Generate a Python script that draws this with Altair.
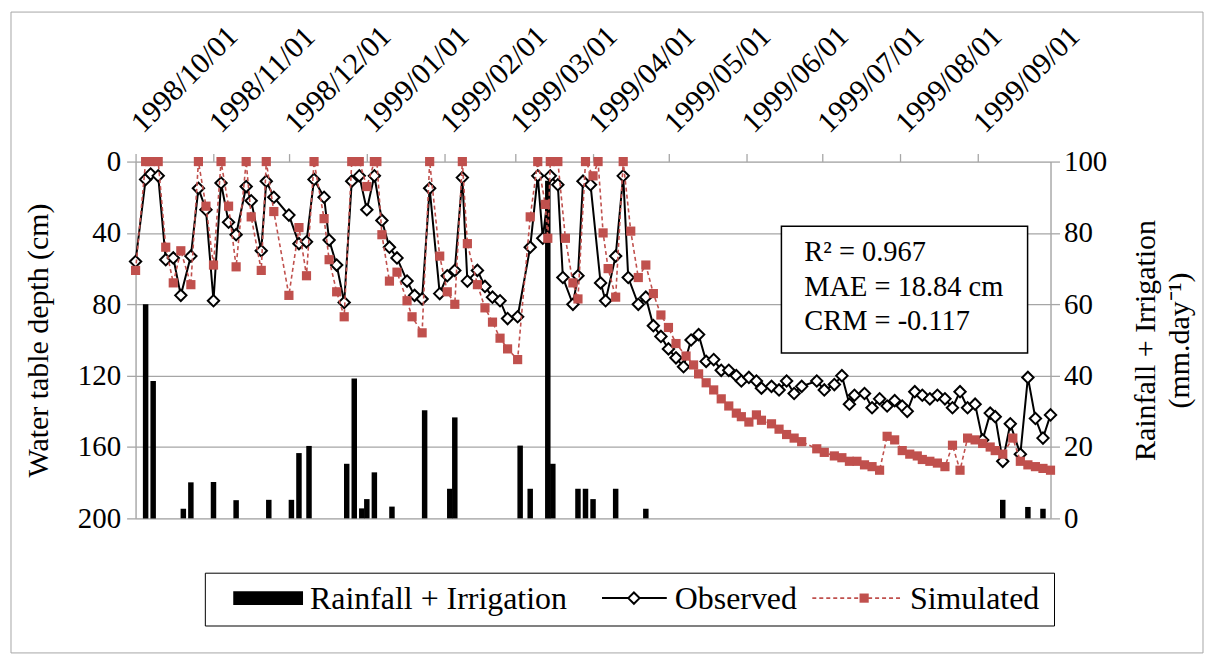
import altair as alt
import pandas as pd

# ---------------- data ----------------
START = pd.Timestamp("1998-10-01")

obs_day = [0, 4, 6, 9, 12, 15, 18, 22, 25, 28,
           31, 34, 37, 40, 44, 46, 50, 52, 55, 61,
           65, 68, 71, 75, 77, 80, 83, 86, 89, 92,
           95, 98, 101, 104, 108, 111, 114, 117, 121, 124,
           127, 130, 132, 136, 139, 142, 145, 148, 152, 157,
           160, 162, 165, 168, 170, 174, 176, 178, 181, 185,
           187, 191, 194, 196, 200, 203, 206, 209, 212, 215,
           218, 221, 224, 227, 230, 233, 236, 239, 241, 244,
           247, 249, 253, 256, 259, 262, 265, 271, 274, 278,
           281, 284, 286, 290, 293, 296, 299, 302, 305, 307,
           310, 313, 316, 319, 322, 325, 328, 331, 334, 337,
           340, 342, 345, 348, 352, 355, 358, 361, 364]
obs_depth = [56, 10, 7, 8, 55, 54, 75, 53, 15, 27,
             78, 12, 34, 41, 14, 22, 50, 11, 20, 30,
             46, 45, 10, 20, 44, 58, 79, 11, 8, 27,
             8, 33, 48, 54, 67, 75, 77, 15, 74, 64,
             61, 9, 67, 61, 70, 76, 78, 88, 87, 48,
             8, 43, 8, 13, 65, 80, 64, 11, 13, 68,
             78, 53, 8, 65, 80, 76, 92, 98, 105, 110,
             115, 100, 97, 112, 111, 117, 117, 120, 123, 121,
             123, 127, 126, 128, 123, 130, 126, 123, 128, 125,
             120, 136, 131, 130, 138, 133, 137, 134, 137, 140,
             129, 131, 133, 131, 133, 138, 129, 138, 136, 156,
             141, 143, 168, 147, 164, 121, 144, 155, 142]

sim_day = [0, 4, 6, 9, 12, 15, 18, 22, 25, 28,
           31, 34, 37, 40, 44, 46, 50, 52, 55, 61,
           65, 68, 71, 75, 77, 80, 83, 86, 89, 92,
           95, 96, 98, 101, 104, 108, 110, 114, 117, 121,
           124, 127, 130, 132, 136, 139, 142, 145, 148, 152,
           157, 160, 163, 164, 165, 168, 171, 174, 176, 179,
           182, 184, 186, 188, 191, 194, 197, 200, 203, 206,
           209, 212, 215, 219, 222, 224, 227, 230, 233, 236,
           239, 241, 244, 247, 249, 253, 256, 259, 262, 265,
           271, 274, 278, 281, 284, 287, 290, 293, 296, 299,
           302, 305, 308, 311, 313, 316, 319, 322, 325, 328,
           331, 334, 337, 340, 342, 345, 349, 352, 355, 358,
           361, 364]
sim_depth = [61, 0, 0, 0, 48, 68, 50, 69, 0, 25,
             58, 0, 25, 59, 0, 31, 61, 0, 28, 75,
             37, 64, 0, 32, 55, 73, 87, 0, 0, 14,
             0, 0, 41, 67, 62, 78, 87, 96, 0, 53,
             73, 80, 0, 46, 69, 82, 90, 99, 105, 111,
             31, 0, 24, 43, 0, 0, 43, 68, 77, 0,
             8, 0, 40, 60, 76, 0, 39, 65, 58, 74,
             86, 93, 102, 109, 114, 119, 124, 128, 133, 137,
             141, 143, 146, 142, 145, 147, 150, 153, 155, 157,
             161, 163, 165, 166, 168, 168, 170, 171, 173, 154,
             156, 162, 164, 165, 167, 168, 169, 171, 159, 173,
             155, 156, 158, 160, 162, 164, 155, 168, 170, 171,
             172, 173]

rain_day = [4, 7, 19, 22, 31, 40, 53, 62, 65, 69,
            84, 87, 90, 92, 95, 102, 115, 125, 127, 153,
            157, 164, 166, 176, 179, 182, 191, 203, 345, 355,
            361]
rain_mm = [60, 38.5, 2.7, 10.1, 10.2, 5.1, 5.2, 5.2, 18.3, 20.3,
           15.3, 39.2, 2.8, 5.4, 12.9, 3.3, 30.3, 8.3, 28.3, 20.4,
           8.3, 94.6, 15.3, 8.3, 8.3, 5.4, 8.3, 2.7, 5.2, 3.2,
           2.7]

month_ticks = [(1998, 10), (1998, 11), (1998, 12), (1999, 1), (1999, 2), (1999, 3),
               (1999, 4), (1999, 5), (1999, 6), (1999, 7), (1999, 8), (1999, 9)]
depth_ticks = [0, 40, 80, 120, 160, 200]
rain_ticks = [0, 20, 40, 60, 80, 100]

stats_lines = ["R\u00b2 = 0.967", "MAE = 18.84 cm", "CRM = -0.117"]
series_names = ["Rainfall + Irrigation", "Observed", "Simulated"]
left_title = "Water table depth (cm)"
right_title = ["Rainfall + Irrigation", "(mm.day\u207b\u00b9)"]


def to_dates(days):
    return [START + pd.Timedelta(days=int(d)) for d in days]


obs_df = pd.DataFrame({"date": to_dates(obs_day), "depth": obs_depth})
sim_df = pd.DataFrame({"date": to_dates(sim_day), "depth": sim_depth})
rain_df = pd.DataFrame({"date": to_dates(rain_day), "rain": rain_mm})
one = pd.DataFrame({"k": [0]})

# ---------------- styling ----------------
FONT = "Liberation Serif"
FS_TICK = 29
FS_DATE = 30
FS_TITLE = 30
FS_BOX = 28.5
FS_LEG = 32
GRAY = "#A6A6A6"
RED = "#C0504D"
W, H = 918, 358

x_scale = alt.Scale(domain=[alt.DateTime(year=1998, month=10, date=1),
                            alt.DateTime(year=1999, month=9, date=30)],
                    nice=False, padding=0)
x_axis = alt.Axis(orient="top",
                  values=[alt.DateTime(year=y, month=m, date=1) for y, m in month_ticks],
                  format="%Y/%m/%d", labelAngle=-45, labelAlign="left",
                  labelBaseline="alphabetic", labelPadding=20, labelOffset=7,
                  tickSize=8, tickColor=GRAY, tickWidth=1.3, domain=False, grid=False,
                  labelFont=FONT, labelFontSize=FS_DATE, labelColor="black",
                  labelOverlap=False, labelFlush=False, labelBound=False, title=None)
X = alt.X("date:T", scale=x_scale, axis=x_axis)

depth_axis = alt.Axis(orient="left", values=depth_ticks, grid=True, gridColor=GRAY,
                      gridWidth=1.3, domainColor=GRAY, domainWidth=1.3, tickColor=GRAY,
                      tickSize=9, tickWidth=1.3, labelPadding=6, labelFont=FONT,
                      labelFontSize=FS_TICK, labelColor="black", title=left_title,
                      titleFont=FONT, titleFontSize=FS_TITLE, titleFontWeight="normal",
                      titleColor="black", titleX=-97, titleY=H / 2, titleAngle=270,
                      titleAlign="center", titleBaseline="middle")
Yd = alt.Y("depth:Q", scale=alt.Scale(domain=[0, 200], reverse=True, nice=False),
           axis=depth_axis)

rain_axis = alt.Axis(orient="right", values=rain_ticks, grid=False, domainColor=GRAY,
                     domainWidth=1.3, tickColor=GRAY, tickSize=9, tickWidth=1.3,
                     labelPadding=4, labelFont=FONT, labelFontSize=FS_TICK, labelColor="black",
                     title=right_title, titleFont=FONT, titleFontSize=FS_TITLE,
                     titleFontWeight="normal", titleColor="black", titleX=95,
                     titleY=H / 2, titleAngle=270, titleAlign="center",
                     titleBaseline="middle", titleLineHeight=34)

bars = alt.Chart(rain_df).mark_bar(color="black", size=5.5).encode(
    x=X, y=alt.Y("rain:Q", scale=alt.Scale(domain=[0, 100], nice=False), axis=rain_axis))

obs_line = alt.Chart(obs_df).mark_line(color="black", strokeWidth=2).encode(x=X, y=Yd)
obs_pts = alt.Chart(obs_df).mark_point(shape="diamond", size=130, filled=True, fill="white",
                                       stroke="black", strokeWidth=2, opacity=1).encode(x=X, y=Yd)
sim_line = alt.Chart(sim_df).mark_line(color=RED, strokeWidth=1.6,
                                       strokeDash=[4, 3]).encode(x=X, y=Yd)
sim_pts = alt.Chart(sim_df).mark_square(size=85, color=RED, opacity=1).encode(x=X, y=Yd)

depth_layers = alt.layer(obs_line, obs_pts, sim_line, sim_pts)
main = alt.layer(bars, depth_layers).resolve_scale(y="independent")

# ---------------- decorations ----------------
def rect(x, x2, y, y2, **kw):
    return alt.Chart(one).mark_rect(**kw).encode(
        x=alt.value(x), x2=alt.value(x2), y=alt.value(y), y2=alt.value(y2))


def text(s, x, y, size, **kw):
    return alt.Chart(one).mark_text(align="left", baseline="alphabetic", font=FONT,
                                    fontSize=size, color="black", **kw).encode(
        x=alt.value(x), y=alt.value(y), text=alt.value(s))


border = rect(-125, 1071, -150, 493, fill="transparent", stroke=GRAY, strokeWidth=1)

stat_box = rect(648, 895, 65, 192, fill="white", stroke="black", strokeWidth=1.5)
stat_texts = [text(s, 671, 100 + 34.5 * i, FS_BOX) for i, s in enumerate(stats_lines)]

LY = 438
leg_box = rect(70, 922, 413, 466, fill="white", stroke="black", strokeWidth=1)
leg_bar = rect(98, 168, LY - 7, LY + 7, fill="black")
leg_obs_line = alt.Chart(one).mark_rule(color="black", strokeWidth=2).encode(
    x=alt.value(468), x2=alt.value(533), y=alt.value(LY))
leg_obs_pt = alt.Chart(one).mark_point(shape="diamond", size=130, filled=True, fill="white",
                                       stroke="black", strokeWidth=2, opacity=1).encode(
    x=alt.value(500), y=alt.value(LY))
leg_sim_line = alt.Chart(one).mark_rule(color=RED, strokeWidth=1.6, strokeDash=[4, 3]).encode(
    x=alt.value(679), x2=alt.value(768), y=alt.value(LY))
leg_sim_pt = alt.Chart(one).mark_square(size=85, color=RED, opacity=1).encode(
    x=alt.value(731), y=alt.value(LY))
leg_texts = [text(series_names[0], 175, LY + 11, FS_LEG),
             text(series_names[1], 541, LY + 11, FS_LEG),
             text(series_names[2], 777, LY + 11, FS_LEG)]

chart = alt.layer(
    border, main, stat_box, *stat_texts,
    leg_box, leg_bar, leg_obs_line, leg_obs_pt, leg_sim_line, leg_sim_pt, *leg_texts
).properties(
    width=W, height=H, padding={"left": 2, "top": 2, "right": 0, "bottom": 0}
).configure_view(stroke=None).configure(background="white")

chart.save("out.html", embed_options={"renderer": "svg", "actions": False})
